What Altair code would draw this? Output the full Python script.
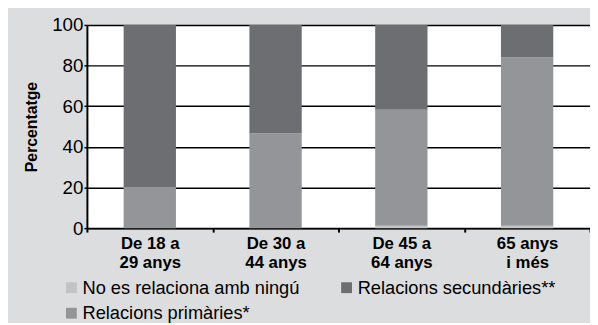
import altair as alt
import pandas as pd

categories = ["De 18 a|29 anys", "De 30 a|44 anys", "De 45 a|64 anys", "65 anys|i més"]
series_names = ["No es relaciona amb ningú", "Relacions primàries*", "Relacions secundàries**"]
no_relacio = [0.0, 0.0, 1.2, 1.2]
primaries = [20.3, 46.7, 57.1, 82.8]
secundaries = [79.7, 53.3, 41.7, 16.0]
y_ticks = [0, 20, 40, 60, 80, 100]

colors = ["#c2c3c5", "#939598", "#6d6e71"]

rows = []
for i, c in enumerate(categories):
    for k, (name, vals) in enumerate(zip(series_names, [no_relacio, primaries, secundaries])):
        rows.append({"cat": c, "serie": name, "value": vals[i], "ord": k})
df = pd.DataFrame(rows)

FONT = "Liberation Sans"

chart = alt.Chart(df).mark_bar(width=alt.RelativeBandSize(0.416)).encode(
    x=alt.X("cat:N", sort=categories, title=None,
            scale=alt.Scale(paddingInner=0, paddingOuter=0),
            axis=alt.Axis(labelExpr="split(datum.label, '|')", labelAngle=0,
                          labelFont=FONT, labelFontSize=17, labelFontWeight="bold",
                          labelColor="black", labelLineHeight=19, labelPadding=4,
                          tickBand="extent", tickSize=4, tickColor="black", tickWidth=2,
                          domainColor="black", domainWidth=2, grid=False)),
    y=alt.Y("value:Q", stack="zero", title="Percentatge",
            scale=alt.Scale(domain=[0, 100]),
            axis=alt.Axis(values=y_ticks, labelFont=FONT, labelFontSize=19, labelColor="black",
                          labelPadding=1, tickSize=3, tickColor="black", tickWidth=1.5,
                          domainColor="black", domainWidth=2,
                          grid=True, gridColor="black", gridWidth=1.5,
                          titleFont=FONT, titleFontSize=16, titleFontWeight="bold",
                          titleColor="black", titlePadding=12)),
    color=alt.Color("serie:N",
                    scale=alt.Scale(domain=series_names, range=colors),
                    legend=alt.Legend(title=None, orient="none", legendX=-25, legendY=257,
                                      values=series_names,
                                      columns=2, columnPadding=38, rowPadding=7,
                                      symbolType="square", symbolSize=121,
                                      symbolStrokeWidth=0, symbolOpacity=1,
                                      labelFont=FONT, labelFontSize=18.5, labelColor="black",
                                      labelOffset=2, labelLimit=400, padding=0)),
    order=alt.Order("ord:Q"),
).properties(
    width=510, height=206,
    autosize=alt.AutoSizeParams(type="none"),
    padding={"left": 80, "top": 15, "right": 0, "bottom": 94},
    background="#dcdddf",
).configure_view(fill="white", stroke=None)

chart.save("out.html", embed_options={"renderer": "svg", "actions": False})
